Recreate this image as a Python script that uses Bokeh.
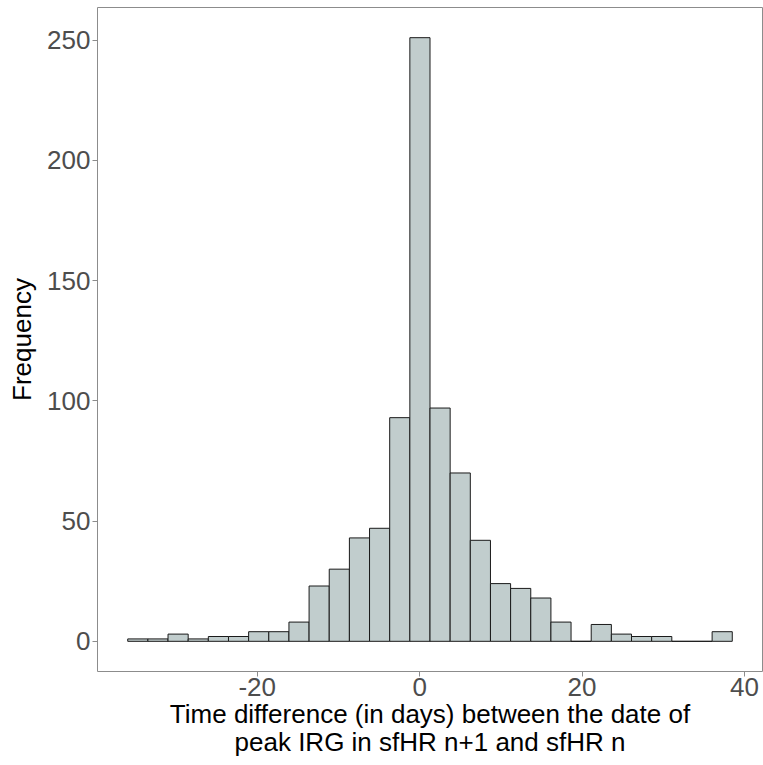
from bokeh.plotting import figure
from bokeh.models import ColumnDataSource, FixedTicker, Range1d, PrintfTickFormatter
from bokeh.embed import file_html
from bokeh.resources import INLINE

# Histogram data (30 bins)
bin_start = -35.95
bin_width = 2.4817
counts = [1, 1, 3, 1, 2, 2, 4, 4, 8, 23, 30, 43, 47, 93, 251,
          97, 70, 42, 24, 22, 18, 8, 0, 7, 3, 2, 2, 0, 0, 4]
x_ticks = [-20, 0, 20, 40]
y_ticks = [0, 50, 100, 150, 200, 250]

lefts = [bin_start + i * bin_width for i in range(len(counts))]
rights = [l + bin_width for l in lefts]
src = ColumnDataSource(dict(left=lefts, right=rights, top=counts, bottom=[0] * len(counts)))

x_lo, x_hi = bin_start, bin_start + bin_width * len(counts)
x_pad = (x_hi - x_lo) * 0.05
y_pad = max(counts) * 0.05

p = figure(width=763, height=765, output_backend="svg", toolbar_location=None,
           x_range=Range1d(x_lo - x_pad, x_hi + x_pad),
           y_range=Range1d(-y_pad, max(counts) + y_pad),
           min_border_left=97, min_border_right=1, min_border_top=7, min_border_bottom=94)

p.quad(left="left", right="right", top="top", bottom="bottom", source=src,
       fill_color="#C1CDCD", line_color="#1a1a1a", line_width=1)

p.xgrid.visible = False
p.ygrid.visible = False
p.outline_line_color = "#8c8c8c"
p.outline_line_width = 1
p.background_fill_color = "white"
p.border_fill_color = "white"

p.xaxis.ticker = FixedTicker(ticks=x_ticks)
p.yaxis.ticker = FixedTicker(ticks=y_ticks)
p.xaxis.formatter = PrintfTickFormatter(format="%d")
p.yaxis.formatter = PrintfTickFormatter(format="%d")

for ax in (p.xaxis[0], p.yaxis[0]):
    ax.axis_line_color = None
    ax.major_tick_line_color = "#8c8c8c"
    ax.major_tick_in = 0
    ax.major_tick_out = 5
    ax.minor_tick_line_color = None
    ax.major_label_text_font = "Liberation Sans"
    ax.major_label_text_font_size = "26px"
    ax.major_label_text_color = "#4D4D4D"
    ax.major_label_standoff = 2
    ax.axis_label_text_font = "Liberation Sans"
    ax.axis_label_text_font_size = "26px"
    ax.axis_label_text_font_style = "normal"
    ax.axis_label_text_color = "black"
    ax.axis_label_standoff = 7

p.xaxis.major_label_standoff = 1
p.xaxis.axis_label_text_line_height = 0.95
p.xaxis.axis_label_standoff = 0
p.xaxis.axis_label = "Time difference (in days) between the date of\npeak IRG in sfHR n+1 and sfHR n"
p.yaxis.axis_label = "Frequency"

open("out.html", "w").write(file_html(p, INLINE))
